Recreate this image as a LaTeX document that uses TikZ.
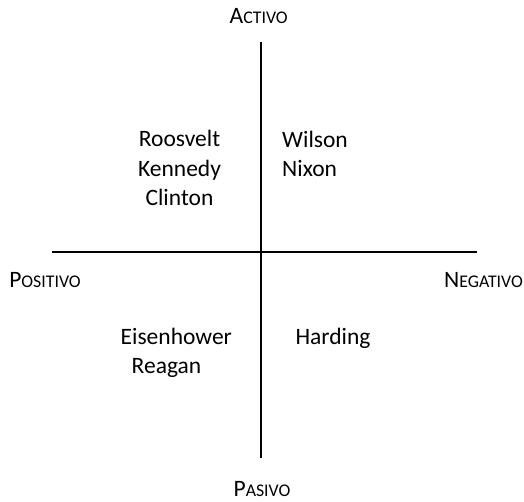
\documentclass[tikz,border=0pt]{standalone}
\usepackage{fontspec}
\setmainfont{Carlito}
\usepackage{tikz}
\usetikzlibrary{positioning}
% fake small caps: first letter big, rest small
\newcommand{\axlabel}[2]{{\fontsize{23.5bp}{29bp}\selectfont #1}{\fontsize{17.8bp}{29bp}\selectfont #2}}

\begin{document}
\begin{tikzpicture}[
  x=1bp, y=1bp,
  axis/.style={line width=2bp, black},
  axname/.style={inner sep=0pt, anchor=base},
  names/.style={inner sep=0pt, font=\fontsize{23.5bp}{29.2bp}\selectfont},
]
  \useasboundingbox (0,0) rectangle (524,502);

  % Axis ends
  \coordinate (top) at (260.5,460);
  \coordinate (bottom) at (260.5,44);
  \coordinate (left) at (52,249.5);
  \coordinate (right) at (477,249.5);

  % Axes
  \draw [axis] (top) -- (bottom);
  \draw [axis] (left) -- (right);

  % Axis labels
  \node (activo) [axname] at (258.7,478) {\axlabel{A}{CTIVO}};
  \node (pasivo) [axname] at (262,5) {\axlabel{P}{ASIVO}};
  \node (positivo) [axname] at (45,214) {\axlabel{P}{OSITIVO}};
  \node (negativo) [axname] at (483.5,214) {\axlabel{N}{EGATIVO}};

  % Quadrants
  \node (activepos) [names, align=center] at (179.5,334) {Roosvelt\\Kennedy\\Clinton};
  \node (activeneg) [names, align=left, anchor=west] at (282,348) {Wilson\\Nixon};
  \node (passivepos) [names, align=left, anchor=west] at (120.5,149.5) {Eisenhower\\\hspace*{11bp}Reagan};
  \node (passiveneg) [names] at (333,164) {Harding};

\end{tikzpicture}
\end{document}
